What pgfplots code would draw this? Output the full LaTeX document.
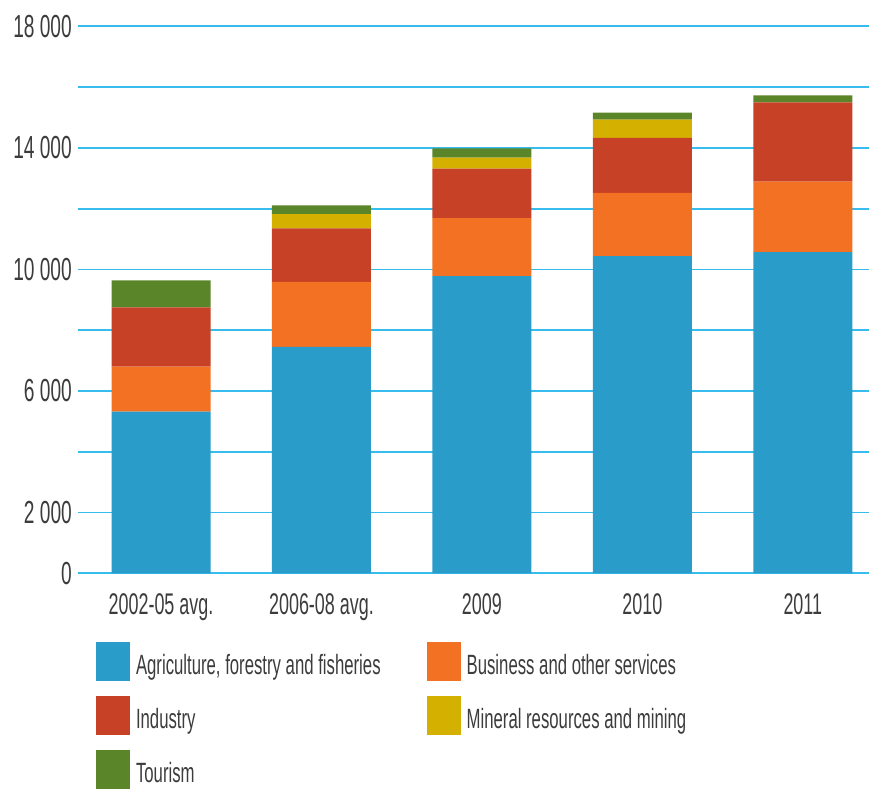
\documentclass[border=0pt]{standalone}
\usepackage{pgfplots}
\pgfplotsset{compat=1.18}
\usepackage{fontspec}
\setmainfont[FakeStretch=0.6]{Liberation Sans}
\definecolor{cAgri}{RGB}{41,156,201}
\definecolor{cBus}{RGB}{243,113,34}
\definecolor{cInd}{RGB}{198,65,37}
\definecolor{cMin}{RGB}{212,176,0}
\definecolor{cTour}{RGB}{90,133,41}
\definecolor{cGrid}{RGB}{55,188,238}
\definecolor{cText}{RGB}{60,60,60}
\begin{document}
\begin{tikzpicture}
\begin{axis}[
  scale only axis, width=791bp, height=547bp,
  ybar stacked, bar width=99bp,
  xmin=-0.5173, xmax=4.4126, ymin=0, ymax=18000,
  scaled y ticks=false,
  xtick={0,1,2,3,4},
  xticklabels={2002-05 avg., 2006-08 avg., 2009, 2010, 2011},
  ytick={0,2000,4000,6000,8000,10000,12000,14000,16000,18000},
  yticklabels={0,2\,000,{},6\,000,{},10\,000,{},14\,000,{},18\,000},
  axis line style={draw=none},
  major tick length=0pt,
  ymajorgrids, grid style={cGrid, line width=1.8bp},
  yticklabel style={font=\fontsize{32}{38}\selectfont, text=cText, inner sep=0pt, xshift=-6bp},
  xticklabel style={font=\fontsize{30}{36}\selectfont, text=cText, inner sep=0pt, yshift=-20bp},
  legend columns=2,
  legend cell align=left,
  legend style={at={(axis description cs:0.02276,-0.1261)}, anchor=north west,
    draw=none, fill=none, inner sep=0pt, outer sep=0pt,
    font=\fontsize{28}{34}\selectfont, text=cText, row sep=15bp,
    nodes={inner sep=0pt},
    /tikz/every odd column/.append style={column sep=6bp},
    /tikz/every even column/.append style={column sep=46bp}},
  legend image code/.code={\fill[#1] (0bp,-15.9bp) rectangle (34bp,23.1bp);},
]
\addplot[fill=cAgri, draw=none] coordinates {(0,5320) (1,7450) (2,9780) (3,10440) (4,10570)};
\addlegendentry{Agriculture, forestry and fisheries}
\addplot[fill=cBus, draw=none] coordinates {(0,1480) (1,2140) (2,1910) (3,2080) (4,2320)};
\addlegendentry{Business and other services}
\addplot[fill=cInd, draw=none] coordinates {(0,1950) (1,1760) (2,1630) (3,1810) (4,2610)};
\addlegendentry{Industry}
\addplot[fill=cMin, draw=none] coordinates {(0,0) (1,470) (2,360) (3,600) (4,0)};
\addlegendentry{Mineral resources and mining}
\addplot[fill=cTour, draw=none] coordinates {(0,890) (1,290) (2,300) (3,230) (4,230)};
\addlegendentry{Tourism}
\end{axis}
\pgfresetboundingbox
\path[use as bounding box] ([shift={(-78bp,-216.7bp)}]current axis.south west) rectangle ([shift={(0bp,26.3bp)}]current axis.north east);
\end{tikzpicture}
\end{document}
